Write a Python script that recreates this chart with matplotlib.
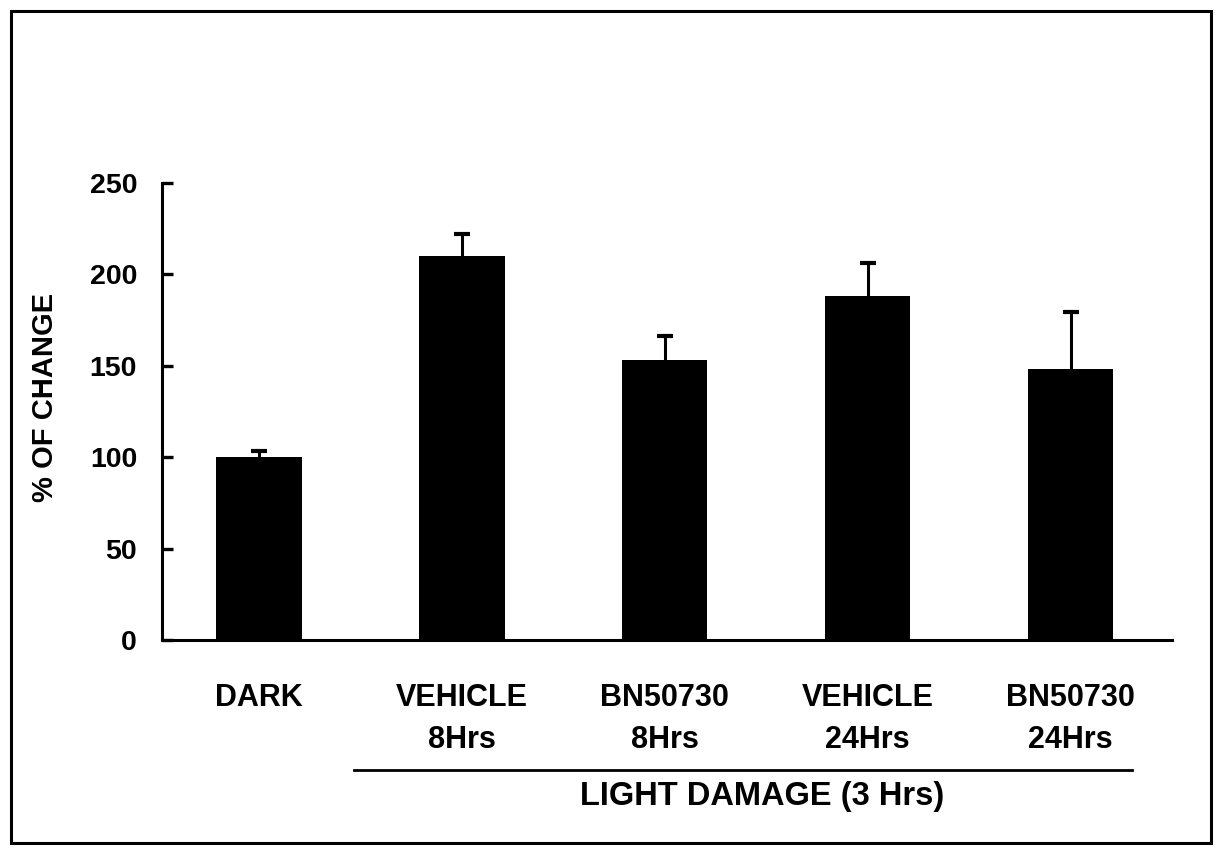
import numpy as np
import matplotlib
matplotlib.use("Agg")
import matplotlib.pyplot as plt
from matplotlib.patches import Rectangle

plt.rcParams['font.family'] = ['Liberation Sans', 'DejaVu Sans']
plt.rcParams['font.weight'] = 'bold'

# values
groups = ["DARK", "VEHICLE\n8Hrs", "BN50730\n8Hrs", "VEHICLE\n24Hrs", "BN50730\n24Hrs"]
percentChange = [100, 210, 153, 188, 148]
errUpper = [3.5, 12, 13.5, 18, 31.5]
yTicks = [0, 50, 100, 150, 200, 250]

fig = plt.figure(figsize=(12.2, 8.52), dpi=100)
ax = fig.add_axes([0.1328, 0.2488, 0.828, 0.5364])

x = np.arange(len(groups))
tops = np.array(percentChange) + np.array(errUpper)
ax.bar(x, percentChange, width=0.42, color='black', zorder=2)
# upper error bars only
ax.vlines(x, percentChange, tops, color='black', lw=2.2, zorder=1)
ax.plot(x, tops, ls='none', marker='_', ms=11, mew=3, color='black', zorder=1)

ax.set_xlim(-0.478, 4.5)
ax.set_ylim(0, 250)
ax.set_yticks(yTicks)
ax.set_xticks(x)
ax.set_xticklabels(groups, fontsize=22, fontweight='bold', linespacing=1.5)
ax.tick_params(axis='x', length=0, pad=31)
ax.tick_params(axis='y', direction='in', length=8, width=2.4, pad=18, labelsize=20.5)

for side in ['top', 'right']:
    ax.spines[side].set_visible(False)
for side in ['left', 'bottom']:
    ax.spines[side].set_linewidth(2.2)

# group bracket under the light damage bars
trans = ax.get_xaxis_transform()
ax.plot([0.47, 4.3], [-0.2845, -0.2845], color='black', lw=2.0,
        transform=trans, clip_on=False)
ax.text(2.48, -0.343, "LIGHT DAMAGE (3 Hrs)", transform=trans, ha='center',
        va='center', fontsize=23.5, fontweight='bold')

fig.text(45 / 1220, 1 - 397 / 852, "% OF CHANGE", rotation=90, ha='center',
         va='center', fontsize=21, fontweight='bold')

# outer frame around the figure
fig.patches.append(Rectangle((0.009, 0.0106), 0.984, 0.9765, fill=False,
                             edgecolor='black', linewidth=2.2,
                             transform=fig.transFigure, figure=fig))

plt.savefig("out.png", dpi=100)
plt.close()
